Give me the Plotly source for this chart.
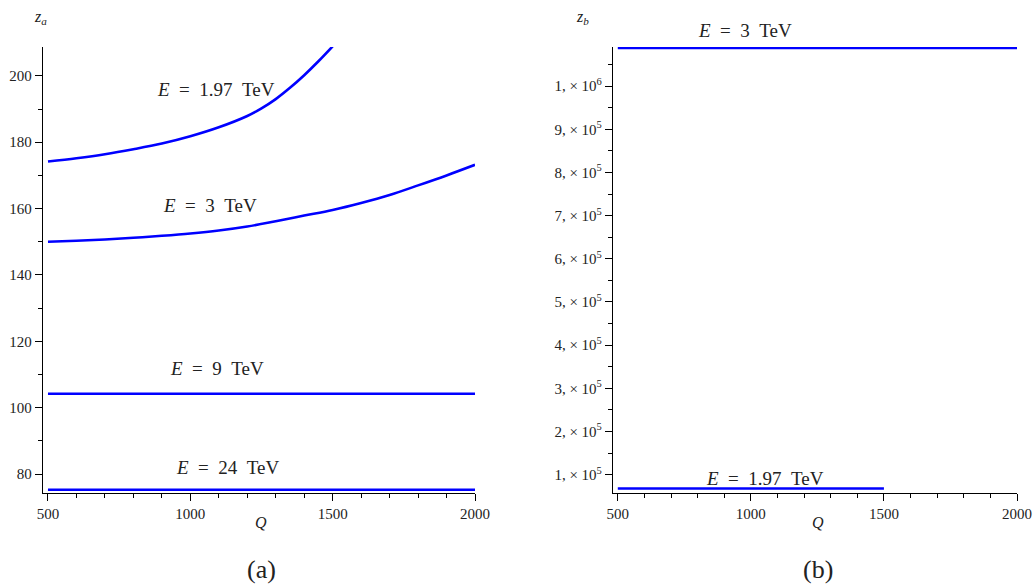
import plotly.graph_objects as go

# ---- data ----
Q_a197 = [500, 600, 700, 800, 900, 1000, 1100, 1200, 1250, 1300, 1350, 1400, 1450, 1500]
z_a197 = [174.2, 175.2, 176.4, 177.9, 179.6, 181.8, 184.5, 187.9, 190.2, 193.0, 196.4, 200.2, 204.4, 208.9]

Q_a3 = [500, 600, 700, 800, 900, 1000, 1100, 1200, 1300, 1400, 1500, 1600, 1700, 1800, 1900, 2000]
z_a3 = [150.0, 150.3, 150.7, 151.2, 151.8, 152.5, 153.4, 154.6, 156.2, 157.9, 159.6, 161.7, 164.1, 167.0, 170.0, 173.2]

Q_a9 = [500, 2000]
z_a9 = [104.2, 104.2]

Q_a24 = [500, 2000]
z_a24 = [75.3, 75.3]

Q_b3 = [500, 2000]
z_b3 = [1088500, 1088500]

Q_b197 = [500, 1500]
z_b197 = [68000, 68000]

ya_ticks = [80, 100, 120, 140, 160, 180, 200]
yb_ticks = [100000 * k for k in range(1, 11)]
yb_text = [f"{k}, × 10<sup>5</sup>" for k in range(1, 10)] + ["1, × 10<sup>6</sup>"]
x_ticks = [500, 1000, 1500, 2000]

FONT = "Liberation Serif"
BLUE = "#0000ff"
TXT = "#222222"

fig = go.Figure()
line = dict(color=BLUE, width=2.6)
fig.add_trace(go.Scatter(x=Q_a197, y=z_a197, mode="lines", line=dict(line, shape="spline", smoothing=1.0), xaxis="x", yaxis="y"))
fig.add_trace(go.Scatter(x=Q_a3, y=z_a3, mode="lines", line=dict(line, shape="spline", smoothing=1.0), xaxis="x", yaxis="y"))
fig.add_trace(go.Scatter(x=Q_a9, y=z_a9, mode="lines", line=line, xaxis="x", yaxis="y"))
fig.add_trace(go.Scatter(x=Q_a24, y=z_a24, mode="lines", line=line, xaxis="x", yaxis="y"))
fig.add_trace(go.Scatter(x=Q_b3, y=z_b3, mode="lines", line=line, xaxis="x2", yaxis="y2"))
fig.add_trace(go.Scatter(x=Q_b197, y=z_b197, mode="lines", line=line, xaxis="x2", yaxis="y2"))

# body margin is removed in the page (post_script), so figure pixels == screen pixels
W, H = 1034, 585
ML, MR, MT, MB = 43, 1034 - 1017, 47, 585 - 493
IW, IH = W - ML - MR, H - MT - MB
def fx(p): return (p - ML) / IW
def fy(p): return (H - MB - p) / IH

axis_common = dict(showline=True, linecolor="black", linewidth=1.3, ticks="outside",
                   tickcolor="black", ticklen=7, tickwidth=1, showgrid=False, zeroline=False,
                   automargin=False,
                   tickfont=dict(family=FONT, size=15, color=TXT))

fig.update_layout(
    width=W, height=H, showlegend=False,
    font=dict(family=FONT, color=TXT),
    margin=dict(l=ML, r=MR, t=MT, b=MB, autoexpand=False),
    paper_bgcolor="white", plot_bgcolor="white",
    xaxis=dict(axis_common, domain=[fx(43), fx(475)], range=[482.5, 2000],
               tickvals=x_ticks, anchor="y",
               minor=dict(dtick=100, tick0=500, ticks="outside", ticklen=4, tickcolor="black")),
    yaxis=dict(axis_common, domain=[0, 1], range=[74.3, 208.7],
               tickvals=ya_ticks, anchor="x",
               minor=dict(dtick=10, tick0=80, ticks="outside", ticklen=4, tickcolor="black")),
    xaxis2=dict(axis_common, domain=[fx(613), fx(1017)], range=[482, 2000],
                tickvals=x_ticks, anchor="y2",
                minor=dict(dtick=100, tick0=500, ticks="outside", ticklen=4, tickcolor="black")),
    yaxis2=dict(axis_common, domain=[0, 1], range=[57500, 1090500],
                tickvals=yb_ticks, ticktext=yb_text, anchor="x2",
                tickfont=dict(family=FONT, size=15, color=TXT),
                minor=dict(dtick=50000, tick0=0, ticks="outside", ticklen=4, tickcolor="black")),
)

def lab(xp, yp, txt, size=19):
    fig.add_annotation(x=fx(xp), y=fy(yp), xref="paper", yref="paper", text=txt,
                       showarrow=False, font=dict(family=FONT, size=size, color=TXT),
                       xanchor="center", yanchor="middle")

S = "&nbsp;"
def e_lab(v): return f"<i>E</i> {S}= {S}{v} {S}TeV"

lab(216, 89, e_lab("1.97"))
lab(210, 205, e_lab("3"))
lab(217, 368, e_lab("9"))
lab(228, 467, e_lab("24"))
lab(745, 31, e_lab("3"))
lab(765, 478, e_lab("1.97"))

lab(40, 17, "<i>z<sub>a</sub></i>", 16)
lab(582, 17, "<i>z<sub>b</sub></i>", 16)
lab(261, 522, "<i>Q</i>", 16)
lab(818, 522, "<i>Q</i>", 16)
lab(261, 569, "(a)", 26)
lab(818, 569, "(b)", 26)

fig.write_html("out.html", config={"displayModeBar": False},
               post_script="document.body.style.margin='0';document.body.style.overflow='hidden';")
